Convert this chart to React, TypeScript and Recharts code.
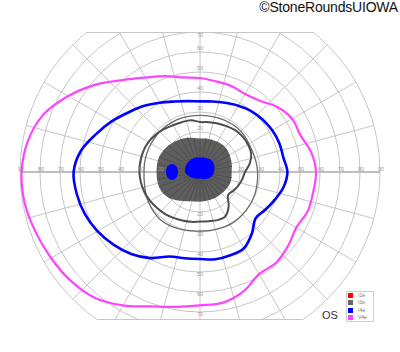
import { RadarChart, Radar, PolarGrid, PolarAngleAxis, PolarRadiusAxis } from "recharts";

// meridians every 10 deg, counter-clockwise from the right
const ANGLES = [0, 10, 20, 30, 40, 50, 60, 70, 80, 90, 100, 110, 120, 130, 140, 150, 160, 170, 180, 190, 200, 210, 220, 230, 240, 250, 260, 270, 280, 290, 300, 310, 320, 330, 340, 350];

// eccentricity (deg) of each isopter along the meridians above
const V4E = [58, 56.5, 53.5, 53.2, 50.5, 46.5, 45, 45.8, 46, 47, 48, 51, 54.5, 60, 68, 76, 83.5, 87.5, 89.2, 89, 87.5, 86, 84.5, 82, 77, 71.5, 68.5, 66.7, 66.3, 63.5, 59, 59.2, 57.5, 55.6, 57.3, 57.5];
const I4E = [43.7, 42.3, 42.2, 41.7, 40.8, 39.8, 38.3, 36.8, 35.8, 35.3, 36, 37.5, 40, 43.2, 46.5, 50.8, 55.3, 60.5, 63.2, 62.6, 61.3, 59.2, 56.5, 53.5, 49.7, 45, 43.8, 43.5, 44.3, 44.3, 44, 40.3, 36.2, 37.7, 40, 42.5];
const I3E_A = [22.5, 25.3, 27.2, 27.6, 27.7, 27.3, 26.5, 25.8, 25.3, 25, 26.3, 26.5, 27, 28, 29, 29.8, 30.2, 30.3, 30.3, 30, 29.5, 28.8, 28, 27.3, 26.5, 25.8, 25.3, 24.8, 25, 25.6, 25.5, 22.3, 18.2, 19, 20.3, 21.4];
const I3E_B = [28.8, 28.5, 28.2, 28.3, 28.7, 28.9, 28.7, 28.5, 28.4, 28.3, 28.4, 28.5, 28.5, 28.5, 28.4, 28.3, 28.2, 28.1, 28, 28.3, 29, 29.8, 30.5, 31, 30.8, 30.2, 29.8, 29.5, 29.6, 29.9, 30.2, 30.2, 30, 29.8, 29.5, 29.1];
const SCOTOMA = [15.8, 16.2, 16.6, 17.1, 17.6, 17.7, 17.5, 17.2, 17, 16.8, 17.3, 18.2, 19, 19.8, 20.6, 21.3, 21.8, 21.8, 21.7, 21.8, 21.8, 21.3, 20.2, 18.4, 16.8, 15.6, 15, 14.8, 14.7, 14.8, 15, 15.1, 15.4, 15.7, 16.1, 16];
const I4E_CENTER = [7, 7.3, 7.7, 8, 8.2, 8.1, 7.8, 7.5, 7.3, 7.2, 7.3, 7.5, 7.6, 7.7, 7.7, 7.7, 7.7, 7.6, 7.5, 6.8, 6, 5.3, 4.7, 4.2, 3.8, 3.5, 3.4, 3.3, 3.4, 3.6, 4, 4.5, 5, 5.7, 6.3, 6.7];
// small I4e island left of fixation
const SPOT_ANGLE = 180;
const SPOT_ECC = 14;

const RINGS = [10, 20, 30, 40, 50, 60, 70, 80, 90];
const RING_LABELS = [20, 30, 40, 50, 60, 70, 80, 90];
const VERTICAL_MAX = 70;
const MERIDIANS = [0, 15, 30, 45, 60, 75, 90, 105, 120, 135, 150, 165, 180, 195, 210, 225, 240, 255, 270, 285, 300, 315, 330, 345];

const LEGEND = [
  { label: "I2e", color: "#ff0000" },
  { label: "I3e", color: "#666666" },
  { label: "I4e", color: "#0000ff" },
  { label: "V4e", color: "#ff44ff" },
];

const data = ANGLES.map((angle, i) => ({
  angle,
  v4e: V4E[i],
  i4e: I4E[i],
  i3eA: I3E_A[i],
  i3eB: I3E_B[i],
  scotoma: SCOTOMA[i],
  center: I4E_CENTER[i],
  spot: angle === SPOT_ANGLE ? SPOT_ECC : null,
}));

const PX_PER_DEG = 2;
const CX = 200;
const CY = 140;

// closed catmull-rom through the radar points
function smoothClosed(pts: any[]) {
  const n = pts.length;
  let d = `M${pts[0].x},${pts[0].y}`;
  for (let i = 0; i < n; i++) {
    const p0 = pts[(i - 1 + n) % n], p1 = pts[i], p2 = pts[(i + 1) % n], p3 = pts[(i + 2) % n];
    d += `C${p1.x + (p2.x - p0.x) / 6},${p1.y + (p2.y - p0.y) / 6} ${p2.x - (p3.x - p1.x) / 6},${p2.y - (p3.y - p1.y) / 6} ${p2.x},${p2.y}`;
  }
  return d + "Z";
}

const curve = (stroke: string, width: number, fill = "none") => (props: any) =>
  <path d={smoothClosed(props.points)} fill={fill} stroke={stroke} strokeWidth={width} strokeLinejoin="round" />;

const scotomaShape = (props: any) => (
  <g>
    <path d={smoothClosed(props.points)} fill="#5e5e5e" stroke="none" />
    {props.points.map((p: any, i: number) => (
      <line key={i} x1={p.cx} y1={p.cy} x2={p.x} y2={p.y} stroke="#474747" strokeWidth={0.7} />
    ))}
  </g>
);

const spotDot = (props: any) => {
  const v = props.value ?? props.payload?.value;
  if (v == null || !Number.isFinite(props.cx)) return <g key={props.key} />;
  return <ellipse key={props.key} cx={props.cx} cy={props.cy} rx={3 * PX_PER_DEG} ry={4 * PX_PER_DEG} fill="#0000ff" />;
};

// the radius axis sits on the right meridian; the same ring position is repeated on the other three
const ringLabel = (props: any) => {
  const r = props.x - CX;
  const common = { textAnchor: "middle" as const, dominantBaseline: "middle" as const, fontSize: 5.5, fill: "#9a9a9a" };
  const v = props.payload.value;
  return (
    <g>
      <text x={CX + r + 1} y={CY - 2} {...common}>{v}</text>
      <text x={CX - r + 1} y={CY - 2} {...common}>{v}</text>
      {v <= VERTICAL_MAX && <text x={CX} y={Math.max(CY - r - 3, 3.5)} {...common}>{v}</text>}
      {v <= VERTICAL_MAX && <text x={CX} y={CY + r + 3} {...common}>{v}</text>}
    </g>
  );
};

export default function App() {
  return (
    <div style={{ position: "absolute", left: 0, top: 0, width: 400, height: 352, background: "#fff", fontFamily: "'Liberation Sans', Arial, sans-serif" }}>
      <div style={{ position: "absolute", right: 2, top: -1, fontSize: 14, color: "#111", letterSpacing: -0.2, textShadow: "0 0 2px #fff" }}>
        ©StoneRoundsUIOWA
      </div>
      <div style={{ position: "absolute", left: 87, top: 32, width: 226, borderTop: "1px solid #c6c6c6" }} />
      <div style={{ position: "absolute", left: 98, top: 319, width: 204, borderTop: "1px solid #c6c6c6" }} />
      <div style={{ position: "absolute", left: 0, top: 32 }}>
        <RadarChart width={400} height={288} data={data} cx={CX} cy={CY} outerRadius={180} startAngle={0} endAngle={360} margin={{ top: 0, right: 0, bottom: 0, left: 0 }}>
          <PolarGrid gridType="circle" polarAngles={MERIDIANS} polarRadius={[10, ...RINGS.map((r) => r * PX_PER_DEG)]} stroke="#c6c6c6" strokeWidth={1} />
          <PolarGrid gridType="circle" polarAngles={[0, 180]} polarRadius={[]} stroke="#b3b3b3" strokeWidth={1.6} />
          <PolarAngleAxis dataKey="angle" type="number" domain={[0, 360]} tick={false} tickLine={false} axisLine={false} />
          <PolarRadiusAxis angle={0} domain={[0, 90]} type="number" ticks={RING_LABELS} tick={ringLabel} tickLine={false} axisLine={false} />
          <Radar dataKey="scotoma" isAnimationActive={false} shape={scotomaShape} />
          <Radar dataKey="i3eB" isAnimationActive={false} shape={curve("#6a6a6a", 1.3)} />
          <Radar dataKey="i3eA" isAnimationActive={false} shape={curve("#4d4d4d", 2)} />
          <Radar dataKey="center" isAnimationActive={false} shape={curve("none", 0, "#0000ff")} />
          <Radar dataKey="spot" isAnimationActive={false} shape={() => <g />} dot={spotDot} />
          <Radar dataKey="i4e" isAnimationActive={false} shape={curve("#0000ff", 2.6)} />
          <Radar dataKey="v4e" isAnimationActive={false} shape={curve("#ff44ff", 2.2)} />
        </RadarChart>
      </div>
      <div style={{ position: "absolute", left: 322, top: 309, fontSize: 11, color: "#333" }}>OS</div>
      <div style={{ position: "absolute", left: 346, top: 291, width: 26, height: 29, border: "1px solid #cfcfcf", background: "#fff" }}>
        {LEGEND.map((l) => (
          <div key={l.label} style={{ display: "flex", alignItems: "center", height: 7.3 }}>
            <span style={{ display: "inline-block", width: 5, height: 5, marginLeft: 1, background: l.color }} />
            <span style={{ fontSize: 5, color: "#777", marginLeft: 5, lineHeight: "7px" }}>{l.label}</span>
          </div>
        ))}
      </div>
    </div>
  );
}
